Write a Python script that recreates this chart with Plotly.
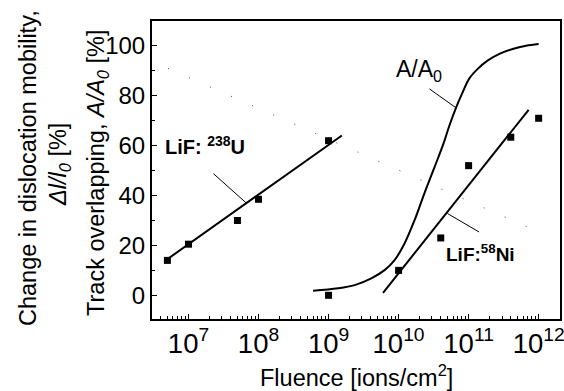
import plotly.graph_objects as go

# Data
u_fluence = [5e6, 1e7, 5e7, 1e8, 1e9]
u_overlap = [14, 20.5, 30, 38.5, 62]
ni_fluence = [1e9, 1e10, 4e10, 1e11, 4e11, 1e12]
ni_overlap = [0, 10, 23, 52, 63.4, 71]

u_fit_x = [5e6, 1.55e9]
u_fit_y = [14.5, 64.1]
ni_fit_x = [6.0e9, 7.2e11]
ni_fit_y = [1.0, 74.4]

aa0_x = [6.01e8, 1.365e9, 2.36e9, 4.08e9, 6.31e9, 8.77e9, 1.216e10, 1.69e10,
         2.344e10, 3.26e10, 4.375e10, 5.32e10, 6.64e10, 8.24e10, 1.026e11,
         1.349e11, 1.862e11, 2.754e11, 4.266e11, 6.607e11, 1.0e12]
aa0_y = [1.8, 2.8, 4.1, 6.8, 10.1, 14.1, 20.8, 30.1, 41.0, 51.4, 60.8, 68.1,
         75.4, 81.5, 87.0, 90.8, 94.1, 96.8, 98.8, 100.1, 100.8]

mob_x = [5.1e6, 1.0e12]
mob_y = [91, 25.4]

lead_u_x = [2.27e7, 6.7e7]
lead_u_y = [48.8, 37.0]
lead_a_x = [2.75e10, 6.6e10]
lead_a_y = [82.8, 75.2]
lead_ni_x = [5.0e10, 1.41e11]
lead_ni_y = [32.8, 25.4]

FONT = "Liberation Sans, Arial, sans-serif"

fig = go.Figure()
fig.add_trace(go.Scatter(x=mob_x, y=mob_y, mode="lines",
                         line=dict(color="#444", width=1, dash="1px,22px")))
fig.add_trace(go.Scatter(x=aa0_x, y=aa0_y, mode="lines",
                         line=dict(color="black", width=2, shape="spline", smoothing=1.0)))
fig.add_trace(go.Scatter(x=u_fit_x, y=u_fit_y, mode="lines",
                         line=dict(color="black", width=2)))
fig.add_trace(go.Scatter(x=ni_fit_x, y=ni_fit_y, mode="lines",
                         line=dict(color="black", width=2)))
for lx, ly in [(lead_u_x, lead_u_y), (lead_a_x, lead_a_y), (lead_ni_x, lead_ni_y)]:
    fig.add_trace(go.Scatter(x=lx, y=ly, mode="lines",
                             line=dict(color="black", width=1)))
fig.add_trace(go.Scatter(x=u_fluence, y=u_overlap, mode="markers",
                         marker=dict(symbol="square", size=7, color="black")))
fig.add_trace(go.Scatter(x=ni_fluence, y=ni_overlap, mode="markers",
                         marker=dict(symbol="square", size=7, color="black")))

W, H = 564, 391
L, R, T, B = 152, 4, 21, 72
pw, ph = W - L - R, H - T - B

def px(x):
    return (x - L) / pw

def py(y):
    return (H - B - y) / ph

anns = [
    dict(text="Fluence [ions/cm<sup>2</sup>]", x=0.5, y=py(376), font=dict(size=23.5)),
    dict(text="Track overlapping, <i>A/A</i><sub><i>0</i></sub> [%]", x=px(98), y=py(173),
         textangle=-90, font=dict(size=23.5)),
    dict(text="<i>Δl/l</i><sub><i>0</i></sub> [%]", x=px(59), y=py(165),
         textangle=-90, font=dict(size=23.5)),
    dict(text="Change in dislocation mobility,", x=px(28), y=py(168),
         textangle=-90, font=dict(size=23.5)),
    dict(text="A/A<sub>0</sub>", x=px(419), y=py(70), font=dict(size=23)),
    dict(text="<b>LiF: <sup>238</sup>U</b>", x=px(205), y=py(145), font=dict(size=20)),
    dict(text="<b>LiF:<sup>58</sup>Ni</b>", x=px(480), y=py(253), font=dict(size=19)),
]
for a in anns:
    a.update(xref="paper", yref="paper", showarrow=False,
             xanchor="center", yanchor="middle")
    a["font"].update(family=FONT, color="black")

fig.update_layout(
    width=W, height=H,
    margin=dict(l=L, r=R, t=T, b=B, autoexpand=False),
    paper_bgcolor="white", plot_bgcolor="white",
    showlegend=False,
    font=dict(family=FONT, size=24, color="black"),
    annotations=anns,
    xaxis=dict(type="log", range=[6.479, 12.305], dtick=1, tick0=0,
               exponentformat="power", showgrid=False, zeroline=False,
               automargin=False,
               showline=True, linecolor="black", linewidth=2, mirror=True,
               ticks="inside", ticklen=5, tickwidth=1.2, tickcolor="black",
               tickfont=dict(size=22), ticklabeloverflow="allow",
               minor=dict(ticks="inside", ticklen=3, tickwidth=1, tickcolor="black",
                          dtick="D1", showgrid=False)),
    yaxis=dict(range=[-9.5, 110], dtick=20, tick0=0, showgrid=False, zeroline=False,
               automargin=False,
               showline=True, linecolor="black", linewidth=2, mirror=True,
               ticks="inside", ticklen=5, tickwidth=1.2, tickcolor="black",
               tickfont=dict(size=24),
               minor=dict(ticks="inside", ticklen=3, tickwidth=1, tickcolor="black",
                          dtick=10, showgrid=False)),
)

fig.write_html("out.html")
